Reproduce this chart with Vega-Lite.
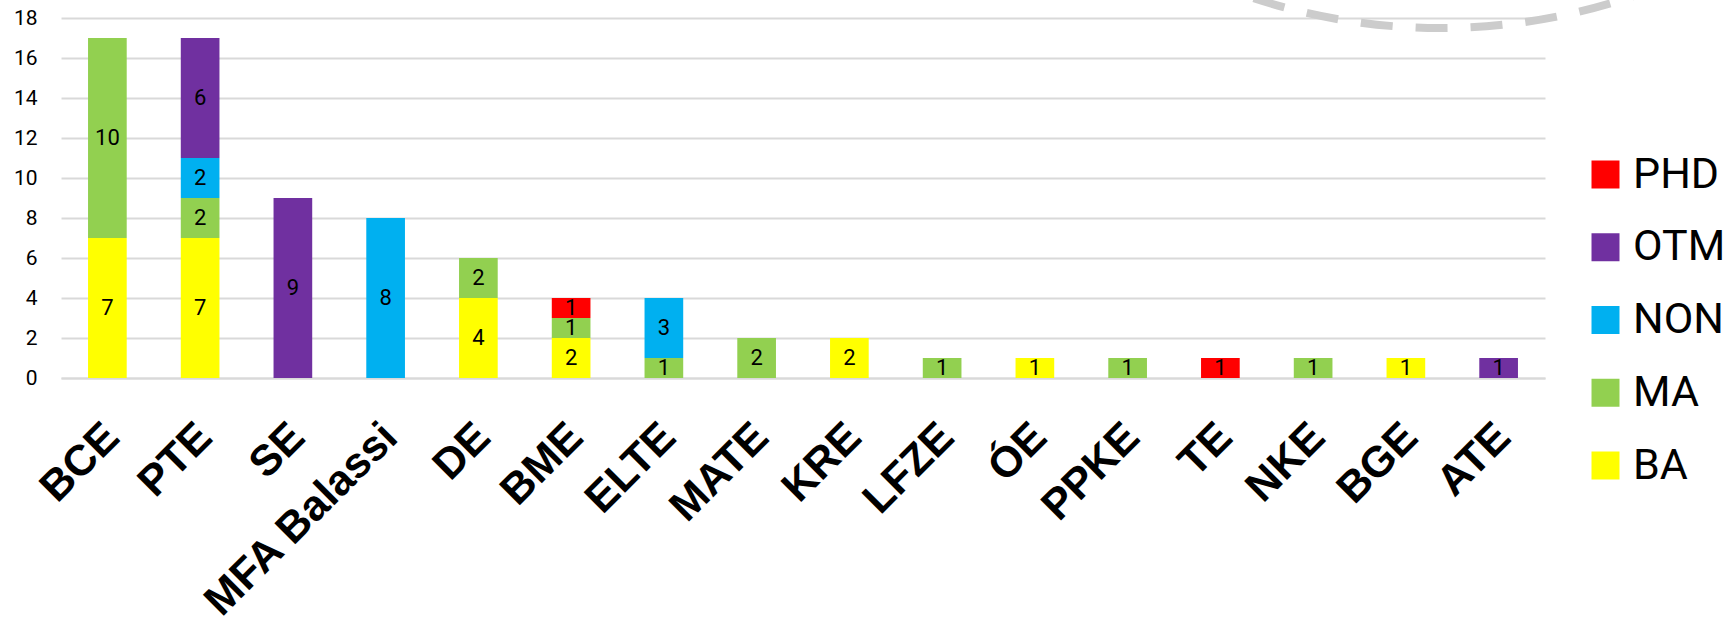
{
  "$schema": "https://vega.github.io/schema/vega-lite/v6.json",
  "width": 1484,
  "height": 360,
  "autosize": {"type": "none"},
  "padding": {"left": 61, "top": 18, "right": 189, "bottom": 246},
  "background": "white",
  "config": {"view": {"stroke": null}},
  "datasets": {
    "counts": [
      {"uni": "BCE", "type": "BA", "n": 7},
      {"uni": "BCE", "type": "MA", "n": 10},
      {"uni": "PTE", "type": "BA", "n": 7},
      {"uni": "PTE", "type": "MA", "n": 2},
      {"uni": "PTE", "type": "NON", "n": 2},
      {"uni": "PTE", "type": "OTM", "n": 6},
      {"uni": "SE", "type": "OTM", "n": 9},
      {"uni": "MFA Balassi", "type": "NON", "n": 8},
      {"uni": "DE", "type": "BA", "n": 4},
      {"uni": "DE", "type": "MA", "n": 2},
      {"uni": "BME", "type": "BA", "n": 2},
      {"uni": "BME", "type": "MA", "n": 1},
      {"uni": "BME", "type": "PHD", "n": 1},
      {"uni": "ELTE", "type": "MA", "n": 1},
      {"uni": "ELTE", "type": "NON", "n": 3},
      {"uni": "MATE", "type": "MA", "n": 2},
      {"uni": "KRE", "type": "BA", "n": 2},
      {"uni": "LFZE", "type": "MA", "n": 1},
      {"uni": "ÓE", "type": "BA", "n": 1},
      {"uni": "PPKE", "type": "MA", "n": 1},
      {"uni": "TE", "type": "PHD", "n": 1},
      {"uni": "NKE", "type": "MA", "n": 1},
      {"uni": "BGE", "type": "BA", "n": 1},
      {"uni": "ATE", "type": "OTM", "n": 1}
    ],
    "ring": [{"cx": 14.87, "cy": 47.5}]
  },
  "layer": [
    {
      "data": {"name": "counts"},
      "encoding": {
        "x": {
          "field": "uni", "type": "nominal",
          "sort": ["BCE","PTE","SE","MFA Balassi","DE","BME","ELTE","MATE","KRE","LFZE","ÓE","PPKE","TE","NKE","BGE","ATE"],
          "scale": {"paddingInner": 0.583, "paddingOuter": 0.2915},
          "axis": {
            "title": null, "ticks": false, "labelAngle": -45, "labelAlign": "right", "labelBaseline": "middle",
            "labelPadding": 52, "labelOffset": 5, "labelFont": "Liberation Sans", "labelFontWeight": "bold", "labelFontSize": 43,
            "labelColor": "black", "domainColor": "#d9d9d9", "domainWidth": 2, "labelOverlap": false, "labelLimit": 0
          }
        },
        "y": {
          "field": "n", "type": "quantitative", "stack": "zero",
          "scale": {"domain": [0, 18], "nice": false},
          "axis": {
            "title": null, "ticks": false, "domain": false, "values": [0,2,4,6,8,10,12,14,16,18],
            "labelPadding": 24, "labelFont": "Roboto", "labelFontSize": 21, "labelOverlap": false, "labelBound": false,
            "labelColor": "black", "gridColor": "#d9d9d9", "gridWidth": 2
          }
        },
        "order": {"field": "type", "sort": "ascending"}
      },
      "layer": [
        {
          "mark": {"type": "bar"},
          "encoding": {
            "color": {
              "field": "type", "type": "nominal",
              "scale": {"domain": ["PHD","OTM","NON","MA","BA"], "range": ["#FF0000","#7030A0","#00B0F0","#92D050","#FFFF00"]},
              "legend": {
                "title": null, "orient": "none", "legendX": 1523, "legendY": 135, "padding": 0,
                "symbolType": "square", "symbolSize": 784, "symbolStrokeWidth": 0, "symbolOpacity": 1,
                "labelFont": "Roboto", "labelFontSize": 43, "labelColor": "black",
                "labelOffset": 6, "rowPadding": 28.75
              }
            }
          }
        },
        {
          "mark": {"type": "text", "font": "Roboto", "fontSize": 22, "color": "black", "baseline": "middle"},
          "encoding": {
            "y": {"field": "n", "type": "quantitative", "stack": "zero", "bandPosition": 0.5},
            "detail": {"field": "type"},
            "text": {"field": "n", "type": "quantitative"}
          }
        }
      ]
    },
    {
      "data": {"name": "ring"},
      "mark": {"type": "point", "shape": "circle", "filled": false, "size": 1440000, "stroke": "#cccccc", "strokeWidth": 8, "strokeDash": [32, 23], "opacity": 1},
      "encoding": {
        "x": {"field": "cx", "type": "quantitative", "scale": {"domain": [0, 16], "nice": false, "zero": false}, "axis": null},
        "y": {"field": "cy", "type": "quantitative", "scale": {"domain": [0, 18], "nice": false, "zero": false}, "axis": null}
      }
    }
  ],
  "resolve": {"scale": {"x": "independent", "y": "independent"}}
}
